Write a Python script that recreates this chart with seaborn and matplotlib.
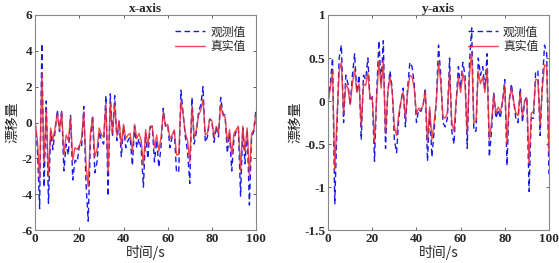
import numpy as np
import pandas as pd
import matplotlib
matplotlib.use("Agg")
import matplotlib.pyplot as plt
import seaborn as sns

t = list(range(0, 101))

x_obs = [0, -1.5, -4.8, 4.4, -3.6, 1.2, -4.5, -0.5, -1.5, -0.5,
         0.7, -0.5, 0.7, -2.7, -1.2, -1.8, 0.4, -3.2, -2.1, -2.2,
         -1.3, -1.4, 0.9, -3.4, -5.5, -1.0, 0.4, -2.8, -2.2, -0.5,
         -1.0, -1.2, 1.5, -4.1, 1.6, -0.8, 1.5, -1.0, 0.1, -1.9,
         -0.2, -1.4, -1.0, -0.8, -2.4, -0.2, -1.4, -0.9, -1.5, -3.6,
         -0.6, -2.0, -0.3, -0.2, -2.2, -1.0, -2.5, -1.3, 0.8, -0.2,
         -0.1, -1.4, -0.8, -0.5, -2.8, -2.7, 1.8, 0.5, -0.8, -1.6,
         -3.4, 1.4, -1.2, -0.5, 0.6, 1.0, 2.0, -1.1, -0.8, 0.2,
         0.1, -1.1, -0.2, -0.8, 1.4, 0.5, 0.4, -1.7, -0.6, -2.7,
         -0.9, -0.5, -0.3, -4.1, -0.3, -2.3, -0.4, -4.6, -0.8, -0.5, 0.8]
x_true = [0, -1.0, -3.2, 2.8, -2.2, 0.7, -3.0, -0.3, -1.0, -0.3,
          0.5, -0.4, 0.6, -1.8, -0.7, -1.0, 0.3, -2.1, -1.4, -1.5,
          -1.3, -0.9, 0.6, -2.3, -3.6, -0.6, 0.3, -1.9, -1.5, -0.3,
          -0.7, -0.8, 1.0, -2.8, 1.1, -0.6, 1.0, -0.7, 0.1, -1.3,
          -0.1, -0.9, -0.7, -0.6, -1.6, -0.1, -0.9, -0.6, -1.0, -2.4,
          -0.4, -1.3, -0.2, -0.2, -1.4, -0.7, -1.6, -0.8, 0.6, -0.2,
          -0.1, -0.9, -0.7, -0.4, -1.8, -1.8, 1.2, 0.4, -0.6, -1.0,
          -2.2, 0.9, -0.8, -0.4, 0.4, 0.7, 1.3, -0.7, -0.6, 0.2,
          0.1, -0.8, -0.2, -0.6, 1.0, 0.4, 0.3, -1.1, -0.4, -1.8,
          -0.6, -0.4, -0.2, -2.7, -0.2, -1.6, -0.3, -3.0, -0.6, -0.4, 0.5]

y_obs = [0, 0.2, 0.5, -1.2, -0.3, 0.5, 0.65, -0.25, 0.3, 0.2,
         -0.05, 0.3, 0.55, 0.1, 0.3, -0.45, 0.3, 0.25, 0.5, 0.0,
         0.05, -0.7, 0.1, 0.7, 0.2, 0.7, -0.55, 0.1, 0.35, 0.15,
         -0.45, -0.6, -0.2, 0.0, 0.15, -0.3, 0.15, 0.45, 0.4, 0.2,
         -0.25, -0.1, -0.12, -0.05, 0.15, -0.7, -0.1, -0.65, -0.35, 0.0,
         0.65, 0.3, -0.25, -0.3, -0.2, 0.5, -0.35, -0.5, 0.0, 0.4,
         0.15, 0.45, 0.3, -0.55, 0.45, 0.85, -0.35, -0.35, 0.5, 0.3,
         0.4, 0.15, 0.55, -0.65, -0.35, 0.1, -0.2, -0.1, -0.2, 0.0,
         0.25, -0.75, 0.0, 0.2, 0.0, -0.2, -0.25, 0.15, -0.25, 0.0,
         0.05, -1.05, -0.2, -0.2, 0.35, 0.35, -0.4, 0.2, 0.65, 0.55, -0.85]
y_true = [0, 0.15, 0.35, -0.8, -0.2, 0.35, 0.45, -0.15, 0.2, 0.15,
          -0.04, 0.2, 0.37, 0.1, 0.2, -0.3, 0.2, 0.18, 0.33, 0.02,
          0.04, -0.48, 0.05, 0.47, 0.15, 0.47, -0.38, 0.1, 0.28, 0.12,
          -0.3, -0.4, -0.15, 0.0, 0.1, -0.2, 0.1, 0.3, 0.28, 0.15,
          -0.15, -0.08, -0.1, -0.05, 0.12, -0.48, -0.07, -0.45, -0.25, 0.0,
          0.45, 0.22, -0.18, -0.2, -0.14, 0.35, -0.25, -0.35, 0.0, 0.27,
          0.1, 0.32, 0.2, -0.38, 0.3, 0.57, -0.25, -0.23, 0.35, 0.2,
          0.28, 0.1, 0.38, -0.45, -0.25, 0.07, -0.14, -0.07, -0.13, 0.0,
          0.18, -0.5, 0.0, 0.15, 0.0, -0.14, -0.17, 0.1, -0.17, 0.0,
          0.03, -0.72, -0.14, -0.12, 0.25, 0.25, -0.28, 0.15, 0.42, 0.4, -0.6]

titles = ["x-axis", "y-axis"]
series_labels = ["观测值", "真实值"]
xlabel = "时间/s"
ylabel = "漂移量"

sns.set_theme(style="white")
plt.rcParams['font.family'] = ['Liberation Serif', 'Noto Sans CJK SC']
plt.rcParams['axes.unicode_minus'] = False

fig = plt.figure(figsize=(5.59, 2.63), dpi=100)
ax1 = fig.add_axes([0.063, 0.125, 0.395, 0.818])
ax2 = fig.add_axes([0.587, 0.125, 0.395, 0.818])

cjk = ['Noto Sans CJK SC', 'DejaVu Sans']

for ax, obs, tru, title, ylim, yticks in [
        (ax1, x_obs, x_true, titles[0], (-6, 6), [-6, -4, -2, 0, 2, 4, 6]),
        (ax2, y_obs, y_true, titles[1], (-1.5, 1), [-1.5, -1, -0.5, 0, 0.5, 1])]:
    sns.lineplot(x=t, y=obs, ax=ax, color='#1a1ae6', linestyle=(0, (4, 2.5)),
                 linewidth=1.0, label=series_labels[0])
    sns.lineplot(x=t, y=tru, ax=ax, color='#ec2a35', linewidth=1.0, alpha=0.85,
                 label=series_labels[1])
    ax.set_xlim(0, 100)
    ax.set_ylim(*ylim)
    ax.set_xticks([0, 20, 40, 60, 80, 100])
    ax.set_yticks(yticks)
    ax.set_yticklabels([f"{v:g}" for v in yticks])
    ax.tick_params(direction='in', length=2, width=0.5, labelsize=9.5,
                   top=True, right=True, bottom=True, left=True, pad=2)
    for lab in ax.get_xticklabels() + ax.get_yticklabels():
        lab.set_fontweight('bold')
    for sp in ax.spines.values():
        sp.set_color('#888888')
        sp.set_linewidth(0.8)
    ax.set_title(title, fontsize=9.5, fontweight='bold', pad=2,
                 family=['Liberation Serif'])
    ax.set_xlabel(xlabel, fontsize=10, family=cjk, labelpad=0)
    ax.set_ylabel(ylabel, fontsize=10, family=cjk, labelpad=1)
    leg = ax.legend(loc='upper right', frameon=False, prop={'family': cjk, 'size': 8.5},
                    handlelength=2.6, borderaxespad=0.5, labelspacing=0.15, handletextpad=0.4)

fig.savefig("out.png", dpi=100)
